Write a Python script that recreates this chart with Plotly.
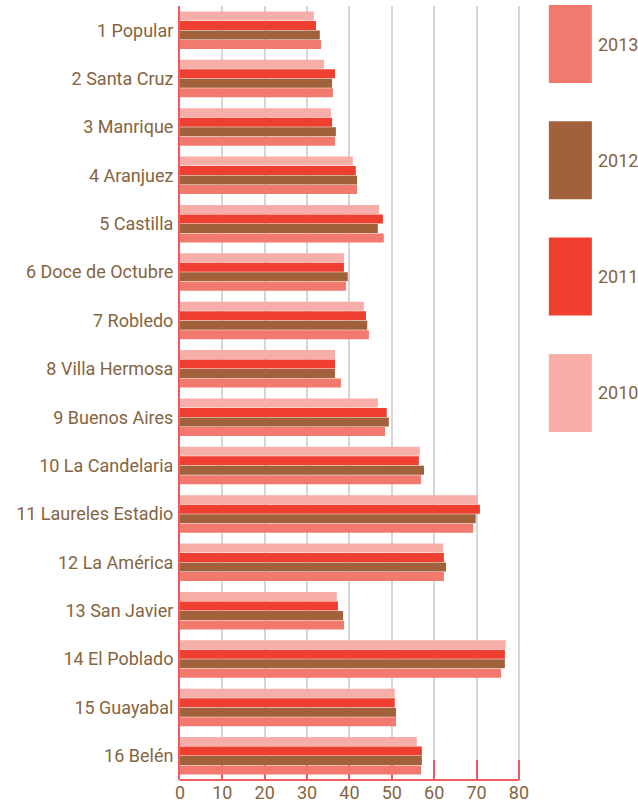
import plotly.graph_objects as go

comunas = ["1 Popular", "2 Santa Cruz", "3 Manrique", "4 Aranjuez", "5 Castilla",
           "6 Doce de Octubre", "7 Robledo", "8 Villa Hermosa", "9 Buenos Aires",
           "10 La Candelaria", "11 Laureles Estadio", "12 La América", "13 San Javier",
           "14 El Poblado", "15 Guayabal", "16 Belén"]

v2010 = [31.6, 34.0, 35.6, 40.8, 47.0, 38.7, 43.4, 36.6, 46.7, 56.6, 70.3, 62.1, 37.0, 76.9, 50.7, 55.9]
v2011 = [32.1, 36.6, 35.9, 41.5, 47.9, 38.7, 43.9, 36.6, 48.8, 56.4, 70.8, 62.3, 37.3, 76.7, 50.7, 57.1]
v2012 = [33.0, 35.9, 36.8, 41.8, 46.7, 39.6, 44.2, 36.6, 49.3, 57.6, 69.8, 62.8, 38.5, 76.7, 51.0, 57.1]
v2013 = [33.3, 36.1, 36.6, 41.8, 48.1, 39.2, 44.6, 38.0, 48.4, 56.9, 69.2, 62.3, 38.7, 75.8, 51.0, 56.9]

years = ["2010", "2011", "2012", "2013"]
series = [v2010, v2011, v2012, v2013]
colors = {"2010": "#F7ADA8", "2011": "#EF3F30", "2012": "#A0613B", "2013": "#F2796E"}
x_ticks = [0, 10, 20, 30, 40, 50, 60, 70, 80]

TEXT = "#86643F"
RED = "#EE5A5E"
GRID = "#D6D6D6"
FONT = "Roboto"

fig = go.Figure()
for yr, vals in zip(years, series):
    fig.add_trace(go.Bar(
        y=comunas, x=vals, name=yr, orientation="h",
        marker=dict(color=colors[yr], line=dict(width=0)),
        showlegend=False,
    ))

W, H = 638, 811
X_MAX = 80.5
ml, mt, mb = 180, 6, 31
plot_w = 339 * X_MAX / 80.0
mr = W - ml - plot_w
plot_h = H - mt - mb

# bottom axis line ending exactly at the last tick
shapes = [dict(type="line", xref="x", yref="paper", x0=x_ticks[0], x1=x_ticks[-1], y0=0, y1=0,
               line=dict(color=RED, width=2), layer="above")]

# custom legend (tall swatches)
legend_years = ["2013", "2012", "2011", "2010"]
annotations = []
for i, yr in enumerate(legend_years):
    top_px = 5 + i * 116.3
    bot_px = top_px + 78
    y1 = (H - mb - top_px) / plot_h
    y0 = (H - mb - bot_px) / plot_h
    x0 = (549 - ml) / plot_w
    x1 = (592 - ml) / plot_w
    shapes.append(dict(type="rect", xref="paper", yref="paper", x0=x0, x1=x1, y0=y0, y1=y1,
                       fillcolor=colors[yr], line=dict(width=0), layer="above"))
    annotations.append(dict(xref="paper", yref="paper", x=(596 - ml) / plot_w, y=(y0 + y1) / 2,
                            text=yr, showarrow=False, xanchor="left", yanchor="middle",
                            font=dict(family=FONT, size=18, color=TEXT)))

fig.update_layout(
    width=W, height=H,
    margin=dict(l=ml, r=mr, t=mt, b=mb, pad=0, autoexpand=False),
    paper_bgcolor="white", plot_bgcolor="white",
    barmode="group", bargap=0.215, bargroupgap=0.06,
    font=dict(family=FONT, color=TEXT, size=18),
    shapes=shapes, annotations=annotations,
    xaxis=dict(range=[0, X_MAX], tickvals=x_ticks, ticktext=[str(t) for t in x_ticks],
               showgrid=True, gridcolor=GRID, gridwidth=2,
               showline=False,
               ticks="inside", ticklen=20, tickwidth=2, tickcolor=RED,
               tickfont=dict(family=FONT, size=18, color=TEXT),
               zeroline=False, layer="below traces", fixedrange=True, automargin=False),
    yaxis=dict(autorange="reversed", showgrid=False, zeroline=False,
               showline=True, linecolor=RED, linewidth=2, ticks="",
               ticklabelstandoff=1,
               tickfont=dict(family=FONT, size=18, color=TEXT),
               layer="above traces", fixedrange=True, automargin=False),
)

fig.write_html("out.html", config={"displayModeBar": False},
               post_script="document.body.style.margin='0';document.body.style.padding='0';")
